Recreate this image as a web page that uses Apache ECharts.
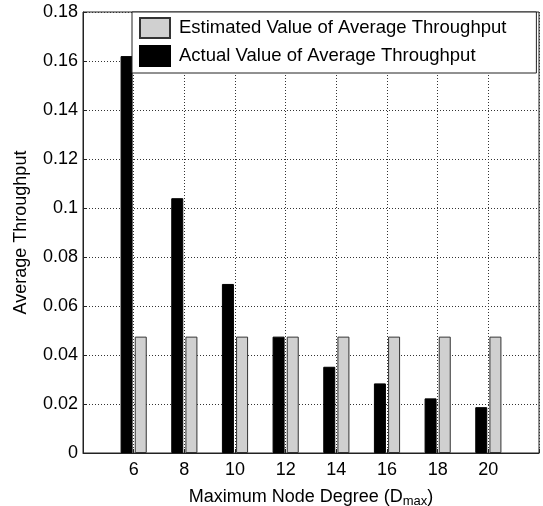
<!DOCTYPE html>
<html>
<head>
<meta charset="utf-8">
<script src="https://cdn.jsdelivr.net/npm/echarts@6/dist/echarts.min.js"></script>
<style>
  html, body { margin: 0; padding: 0; background: #fff; }
  #chart { width: 543px; height: 506px; }
</style>
</head>
<body>
<div id="chart"></div>
<script>
const degrees = [6, 8, 10, 12, 14, 16, 18, 20];
const actualValues = [0.162, 0.104, 0.069, 0.0475, 0.0352, 0.0284, 0.0223, 0.0187];
const estimatedValues = [0.0475, 0.0475, 0.0475, 0.0475, 0.0475, 0.0475, 0.0475, 0.0475];
const yTicks = ['0', '0.02', '0.04', '0.06', '0.08', '0.1', '0.12', '0.14', '0.16', '0.18'];

const font = 'Liberation Sans, Arial, Helvetica, sans-serif';
const chart = echarts.init(document.getElementById('chart'));

chart.setOption({
  animation: false,
  textStyle: { fontFamily: font, color: '#000' },
  grid: {
    left: 83,
    right: 4,
    top: 12,
    bottom: 53,
    outerBoundsMode: 'none',
    containLabel: false,
    show: true,
    borderColor: '#222',
    borderWidth: 1,
    backgroundColor: '#fff',
  },
  legend: {
    orient: 'vertical',
    left: 132,
    top: 12,
    padding: [5, 30, 6, 7],
    icon: 'rect',
    itemWidth: 30,
    itemHeight: 20,
    itemGap: 6,
    backgroundColor: '#fff',
    borderColor: '#222',
    borderWidth: 1,
    textStyle: { fontSize: 18.5, fontFamily: font, color: '#000', padding: [0, 0, 0, 4] },
    data: ['Estimated Value of Average Throughput', 'Actual Value of Average Throughput'],
  },
  xAxis: {
    type: 'value',
    min: 4,
    max: 22,
    interval: 2,
    name: '{n|Maximum Node Degree (D}{s|max}{n|)}',
    nameLocation: 'middle',
    nameGap: 34,
    nameTextStyle: {
      rich: {
        n: { fontSize: 18, fontFamily: font, color: '#000' },
        s: { fontSize: 13, fontFamily: font, color: '#000', padding: [8, 0, 0, 0] },
      },
    },
    axisLine: { show: true, onZero: false, lineStyle: { color: '#222' } },
    axisTick: { show: true, inside: true, length: 4, lineStyle: { color: '#222' } },
    axisLabel: {
      fontSize: 18,
      color: '#000',
      margin: 8,
      formatter: (v) => (degrees.includes(v) ? String(v) : ''),
    },
    splitLine: { show: true, lineStyle: { color: '#333', type: [1, 2], width: 1 } },
  },
  yAxis: {
    type: 'value',
    min: 0,
    max: 0.18,
    interval: 0.02,
    name: 'Average Throughput',
    nameLocation: 'middle',
    nameGap: 53,
    nameTextStyle: { fontSize: 18, fontFamily: font, color: '#000' },
    axisLine: { show: true, lineStyle: { color: '#222' } },
    axisTick: { show: true, inside: true, length: 4, lineStyle: { color: '#222' } },
    axisLabel: {
      fontSize: 18,
      color: '#000',
      margin: 5,
      formatter: (v) => yTicks[Math.round(v / 0.02)],
    },
    splitLine: { show: true, lineStyle: { color: '#333', type: [1, 2], width: 1 } },
  },
  series: [
    {
      name: 'Actual Value of Average Throughput',
      type: 'bar',
      barWidth: 12,
      barGap: '18%',
      data: degrees.map((d, i) => [d, actualValues[i]]),
      itemStyle: { color: '#000', borderColor: '#000', borderWidth: 1 },
    },
    {
      name: 'Estimated Value of Average Throughput',
      type: 'bar',
      barWidth: 12,
      barGap: '18%',
      data: degrees.map((d, i) => [d, estimatedValues[i]]),
      itemStyle: { color: '#d0d0d0', borderColor: '#333', borderWidth: 1 },
    },
  ],
});
</script>
</body>
</html>
